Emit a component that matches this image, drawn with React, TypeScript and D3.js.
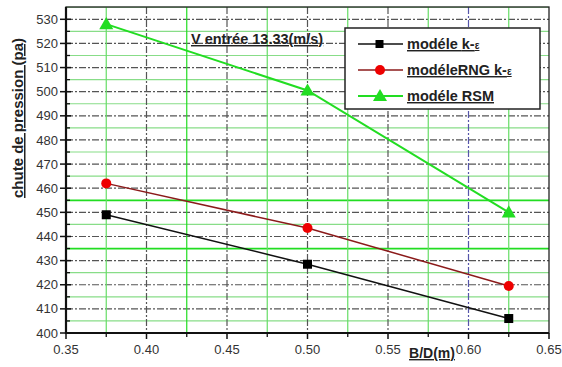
import React from 'react';
import * as d3 from 'd3';

// values
const bdValues = [0.375, 0.5, 0.625];
const kEpsilon = [449, 428.5, 406];
const rngKEpsilon = [462, 443.5, 419.5];
const rsm = [528, 500.5, 450];

const xTicks = [0.35, 0.4, 0.45, 0.5, 0.55, 0.6, 0.65];
const yTicks = d3.range(400, 531, 10);

const width = 562;
const height = 367;
const margin = { top: 7, right: 13, bottom: 34, left: 66 };

const App = () => {
  const x = d3.scaleLinear().domain([0.35, 0.65]).range([margin.left, width - margin.right]);
  const y = d3.scaleLinear().domain([400, 530]).range([333, 19.3]);
  const top = margin.top;
  const bottom = y(400);
  const left = x(0.35);
  const right = x(0.65);

  const line = d3.line<[number, number]>().x(d => x(d[0])).y(d => y(d[1]));
  const pts = (vals: number[]) => bdValues.map((b, i) => [b, vals[i]] as [number, number]);

  const minorY = d3.range(405, 536, 10);
  const minorX = d3.range(0.375, 0.65, 0.05);
  const tri = d3.symbol().type(d3.symbolTriangle).size(85)() as string;

  const font = 'Liberation Sans, Arial, sans-serif';

  return (
    <svg width={width} height={height} style={{ position: 'absolute', left: 0, top: 0, background: '#fff' }}>
      {/* minor horizontal grid (green) */}
      {minorY.map(v => (
        <line key={'my' + v} x1={left} x2={right} y1={y(v)} y2={y(v)}
          stroke={v === 455 || v === 435 ? '#22dd22' : '#88dd88'}
          strokeWidth={v === 455 || v === 435 ? 1.8 : 1.2} />
      ))}
      {/* major horizontal grid */}
      {yTicks.map(v => (
        <line key={'gy' + v} x1={left} x2={right} y1={y(v)} y2={y(v)}
          stroke="#555" strokeWidth={1.2} strokeDasharray="7,2,2,2" />
      ))}
      {/* minor vertical grid */}
      {minorX.map(v => (
        <line key={'mx' + v} x1={x(v)} x2={x(v)} y1={top} y2={bottom}
          stroke={Math.abs(v - 0.425) < 1e-6 ? '#22dd22' : '#66dd66'} strokeWidth={1.2} />
      ))}
      {/* major vertical grid */}
      {xTicks.slice(1, -1).map(v => (
        <line key={'gx' + v} x1={x(v)} x2={x(v)} y1={top} y2={bottom}
          stroke={Math.abs(v - 0.6) < 1e-6 ? '#5555aa' : '#555'} strokeWidth={1.2} strokeDasharray="7,2,2,2" />
      ))}

      {/* frame */}
      <rect x={left} y={top} width={right - left} height={bottom - top} fill="none" stroke="#222" strokeWidth={1.3} />
      <line x1={left} x2={left} y1={top} y2={bottom + 1} stroke="#111" strokeWidth={2.2} />
      <line x1={left - 1} x2={right} y1={bottom} y2={bottom} stroke="#111" strokeWidth={2.2} />

      {/* y ticks */}
      {yTicks.map(v => (
        <g key={'ty' + v}>
          <line x1={left - 6} x2={left + 5} y1={y(v)} y2={y(v)} stroke="#111" strokeWidth={1.5} />
          <text x={left - 8} y={y(v)} dy="0.35em" textAnchor="end" fontSize={13} fill="#333" fontFamily={font}>{v}</text>
        </g>
      ))}
      {minorY.filter(v => v < 530).map(v => (
        <line key={'tmy' + v} x1={left} x2={left + 4} y1={y(v)} y2={y(v)} stroke="#111" strokeWidth={1.3} />
      ))}

      {/* x ticks */}
      {xTicks.map(v => (
        <g key={'tx' + v}>
          <line x1={x(v)} x2={x(v)} y1={bottom} y2={bottom + 6} stroke="#111" strokeWidth={1.5} />
          <text x={x(v)} y={bottom + 21} textAnchor="middle" fontSize={13} fill="#333" fontFamily={font}>{v.toFixed(2)}</text>
        </g>
      ))}
      {minorX.map(v => (
        <line key={'tmx' + v} x1={x(v)} x2={x(v)} y1={bottom} y2={bottom + 4} stroke="#111" strokeWidth={1.3} />
      ))}

      {/* axis titles */}
      <text transform={`translate(23,118) rotate(-90)`} textAnchor="middle" fontSize={15}
        fontWeight="bold" fill="#222" fontFamily={font} textDecoration="underline">chute de pression (pa)</text>
      <text x={432} y={358} textAnchor="middle" fontSize={14} fontWeight="bold" fill="#222" fontFamily={font}
        textDecoration="underline">B/D(m)</text>

      {/* annotation */}
      <text x={191} y={44} fontSize={14.5} fontWeight="bold" fill="#222" fontFamily={font} textDecoration="underline">V entrée 13.33(m/s)</text>

      {/* series */}
      <path d={line(pts(kEpsilon)) as string} fill="none" stroke="#111" strokeWidth={1.5} />
      <path d={line(pts(rngKEpsilon)) as string} fill="none" stroke="#8b1a1a" strokeWidth={1.5} />
      <path d={line(pts(rsm)) as string} fill="none" stroke="#22dd22" strokeWidth={2} />
      {bdValues.map((b, i) => (
        <g key={'m' + i}>
          <rect x={x(b) - 4.5} y={y(kEpsilon[i]) - 4.5} width={9} height={9} fill="#000" />
          <circle cx={x(b)} cy={y(rngKEpsilon[i])} r={5} fill="#ee0000" />
          <path d={tri} transform={`translate(${x(b)},${y(rsm[i]) + 1})`} fill="#22dd22" />
        </g>
      ))}

      {/* legend */}
      <g fontFamily={font}>
        <rect x={345} y={28} width={195} height={81} fill="#fff" stroke="#222" strokeWidth={1.5} />
        {[
          { label: 'modéle ', eps: true, color: '#111', mark: 'sq' },
          { label: 'modéleRNG ', eps: true, color: '#8b1a1a', mark: 'ci' },
          { label: 'modéle RSM', eps: false, color: '#22dd22', mark: 'tr' },
        ].map((d, i) => {
          const ly = 44 + i * 26;
          return (
            <g key={'lg' + i}>
              <line x1={358} x2={403} y1={ly} y2={ly} stroke={d.color} strokeWidth={d.mark === 'tr' ? 2 : 1.5} />
              {d.mark === 'sq' && <rect x={375.5} y={ly - 4} width={8} height={8} fill="#000" />}
              {d.mark === 'ci' && <circle cx={380} cy={ly} r={5} fill="#ee0000" />}
              {d.mark === 'tr' && <path d={tri} transform={`translate(380,${ly + 1})`} fill="#22dd22" />}
              <text x={407} y={ly + 5} fontSize={14.5} fontWeight="bold" fill="#222" textDecoration="underline">
                {d.label}
                {d.eps && <tspan>k-</tspan>}
                {d.eps && <tspan fontSize={10}>ε</tspan>}
              </text>
            </g>
          );
        })}
      </g>
    </svg>
  );
};

export default App;
